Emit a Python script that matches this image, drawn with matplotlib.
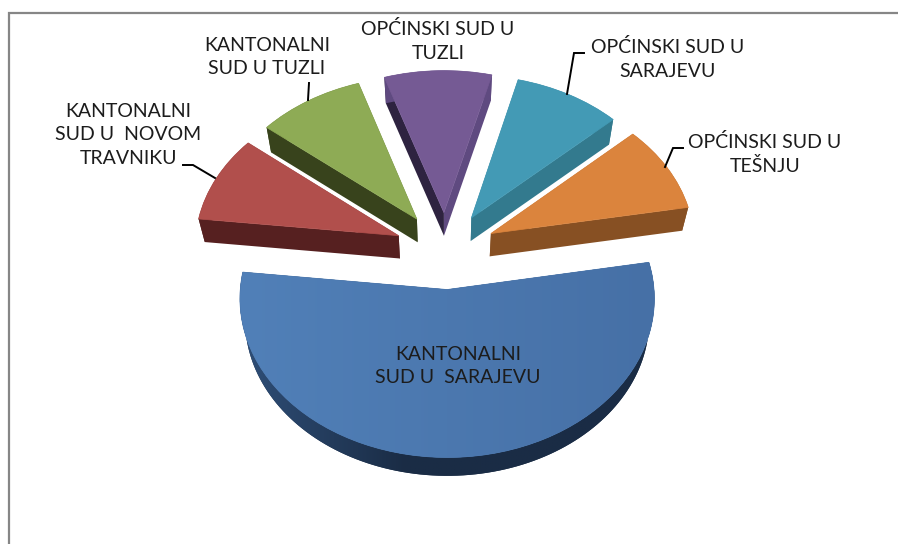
import numpy as np
import matplotlib
matplotlib.use("Agg")
import matplotlib.pyplot as plt
from matplotlib.patches import Polygon
from matplotlib.transforms import Transform
from matplotlib.colors import to_rgb

plt.rcParams['font.family'] = ['Lato', 'DejaVu Sans']

categories = ["OPĆINSKI SUD U\nTEŠNJU", "OPĆINSKI SUD U\nSARAJEVU", "OPĆINSKI SUD U\nTUZLI",
              "KANTONALNI\nSUD U TUZLI", "KANTONALNI\nSUD U  NOVOM\nTRAVNIKU",
              "KANTONALNI\nSUD U  SARAJEVU"]
values = [1, 1, 1, 1, 1, 6]
top_colors = ["#db843d", "#439ab5", "#755a94", "#8eab55", "#b14f4c", "#4c78ae"]
start_wall = ["#875023", "#337a8e", "#5f4a80", "#38431c", "#562020", "#1b2e47"]
end_wall = ["#875023", "#337a8e", "#2e2340", "#38431c", "#562020", "#1b2e47"]
arc_wall = ["#875023", "#337a8e", "#5f4a80", "#38431c", "#562020", "#1b2e47"]
label_pos = [(765, 154), (668, 59), (438, 41), (267, 57), (128, 135), (458, 366)]
leaders = [[(683, 148), (673, 148), (665, 167)],
           [(584, 53), (574, 53), (567, 94)],
           None,
           [(309, 83), (308, 100)],
           [(183, 165), (193, 165), (215, 178)],
           None]

W, H = 898, 544
CX, CY, FX, FY, K = 445.5, 250.5, 204.0, 154.0, 0.056
DEPTH, SHRINK_X, SHRINK_Y = 22.5, 0.025, 0.02


def project(xy):
    xy = np.asarray(xy, float)
    w = 1 + K * xy[..., 1]
    return np.stack([CX + FX * xy[..., 0] / w, CY - FY * xy[..., 1] / w], axis=-1)


def project_low(xy):
    """Floor of a slice: further from the viewer, so a little smaller."""
    p = project(xy)
    return np.stack([CX + (p[..., 0] - CX) * (1 - SHRINK_X),
                     CY + (p[..., 1] - CY) * (1 - SHRINK_Y) + DEPTH], axis=-1)


class Perspective(Transform):
    input_dims = output_dims = 2
    is_affine = False
    has_inverse = False

    def transform_non_affine(self, values):
        return project(values)


fig = plt.figure(figsize=(W / 100, H / 100), dpi=100)
ax = fig.add_axes([0, 0, 1, 1])
wedges, _ = ax.pie(values, startangle=10, counterclock=True, radius=1.0,
                   explode=[0.25] * len(values), colors=top_colors)
persp = Perspective()


def wall(line, color, z=2):
    pts = np.vstack([project(line), project_low(line)[::-1]])
    p = Polygon(pts, closed=True, facecolor=color, edgecolor='none', zorder=z)
    ax.add_patch(p)
    return p


for i, w in enumerate(wedges):
    c = np.array(w.center)
    ts = np.linspace(np.radians(w.theta1), np.radians(w.theta2), 120)
    rim = c + np.c_[np.cos(ts), np.sin(ts)]
    wall(np.array([c, rim[0]]), start_wall[i])
    wall(np.array([c, rim[-1]]), end_wall[i])
    rim_patch = wall(rim, arc_wall[i])
    if i == 5:
        # the rim of the large slice is lighter on its left
        g = np.clip(np.linspace(0, 1, 256) / 0.4, 0, 1)[None, :, None]
        img = np.array(to_rgb("#2f4f78"))[None, None, :] * (1 - g) + np.array(to_rgb("#1a2c45"))[None, None, :] * g
        im = ax.imshow(img, extent=(238, 656, 490, 255), aspect='auto', zorder=2.5)
        im.set_clip_path(rim_patch)
    w.set_transform(persp + ax.transData)
    w.set_zorder(3)
    w.set_edgecolor(top_colors[i])
    w.set_linewidth(0.5)
    w.set_clip_on(False)

# soft left-to-right shading of the top face of the large slice
blue = wedges[5]
grad = np.linspace(0, 1, 256)[None, :, None]
img = np.array(to_rgb("#5180b8"))[None, None, :] * (1 - grad) + np.array(to_rgb("#4670a6"))[None, None, :] * grad
im = ax.imshow(img, extent=(238, 656, 480, 255), aspect='auto', zorder=3.5)
im.set_clip_path(blue.get_path(), blue.get_transform())

for (x, y), text in zip(label_pos, categories):
    ax.text(x, y, text, ha='center', va='center', fontsize=14, color='#1c1c1c',
            linespacing=1.45, zorder=6)
for pts in leaders:
    if pts:
        xs, ys = zip(*pts)
        ax.plot(xs, ys, color='black', lw=1.4, zorder=5, solid_joinstyle='miter')

# chart area border: top and left only are visible
ax.plot([9, 9, W], [H, 13, 13], color='#868686', lw=1.6, zorder=1, solid_joinstyle='miter')

ax.set_xlim(0, W)
ax.set_ylim(H, 0)
ax.set_aspect('auto')
ax.axis('off')
fig.savefig("out.png", dpi=100, facecolor='white')
